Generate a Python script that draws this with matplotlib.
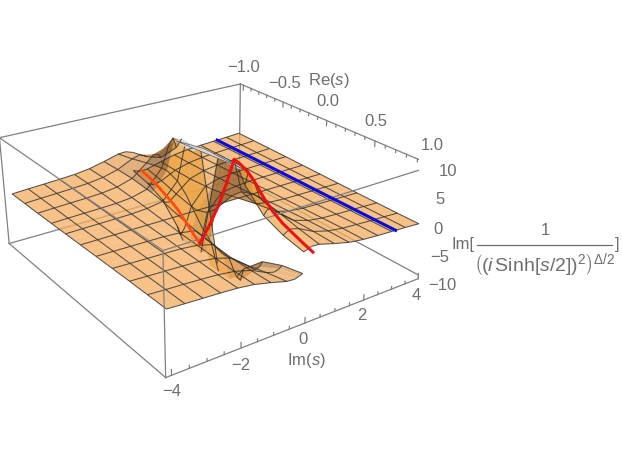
import numpy as np
import matplotlib
matplotlib.use('Agg')
import matplotlib.pyplot as plt
from mpl_toolkits.mplot3d.art3d import Poly3DCollection, Line3DCollection

plt.rcParams['font.family'] = ['Liberation Sans', 'DejaVu Sans']
plt.rcParams['mathtext.fontset'] = 'custom'
plt.rcParams['mathtext.rm'] = 'Liberation Sans'
plt.rcParams['mathtext.it'] = 'Liberation Sans:italic'

W, H = 622, 463
GRAY = '#6e6e6e'

# surface values for Re > 0, Im > 0; the other three quadrants are its mirror images
re_pos = [0.1, 0.2, 0.33, 0.4, 0.6, 0.8, 1.0]
im_pos = [0.0, 0.1, 0.25, 0.5, 1.0, 1.5, 2.0, 2.5, 3.0, 3.5, 4.0]
z_quad = [
    [10.0, 10.0, 10.0, 7.8, 4.2, 2.7, 1.9],
    [10.0, 10.0, 10.0, 9.8, 5.0, 3.1, 2.1],
    [10.0, 10.0, 10.0, 8.6, 5.2, 3.4, 2.4],
    [2.3, 3.9, 4.7, 4.6, 3.9, 3.0, 2.3],
    [0.4, 0.8, 1.2, 1.3, 1.6, 1.6, 1.5],
    [0.14, 0.3, 0.44, 0.5, 0.7, 0.8, 0.8],
    [0.06, 0.1, 0.19, 0.2, 0.3, 0.4, 0.4],
    [0.03, 0.05, 0.09, 0.1, 0.15, 0.2, 0.2],
    [0.005, 0.01, 0.015, 0.02, 0.03, 0.03, 0.04],
    [-0.015, -0.03, -0.05, -0.06, -0.08, -0.1, -0.11],
    [-0.04, -0.08, -0.13, -0.16, -0.22, -0.27, -0.3],
]
# mesh lines of the surface
re_mesh = [-1.0, -0.8, -0.6, -0.4, -0.2, 0.0, 0.2, 0.4, 0.6, 0.8, 1.0]
im_mesh = [0.0, 0.5, 1.0, 1.5, 2.0, 2.5, 3.0, 3.5, 4.0]

# red curve slightly above Im = 0, blue one at Im = pi
red_im = 0.3
red_left_re = [-1.0, -0.9, -0.8, -0.7, -0.6, -0.5, -0.4, -0.3, -0.22]
red_left_z = [-2.4, -2.8, -3.4, -4.2, -5.0, -6.0, -7.5, -9.0, -10.0]
red_right_re = [-0.22, -0.1, 0.0, 0.1, 0.18, 0.25, 0.33, 0.4, 0.5, 0.6, 0.7, 0.8, 0.9, 1.0]
red_right_z = [-10.0, -5.0, -0.5, 5.0, 10.0, 9.7, 9.0, 8.0, 6.0, 4.4, 3.3, 2.6, 1.9, 1.3]
blue_re = [-1.0, 1.0]
blue_im = [3.14, 3.14]
blue_z = [0.0, 0.0]

re_ticks = [-1.0, -0.5, 0.0, 0.5, 1.0]
im_ticks = [-4, -2, 0, 2, 4]
z_ticks = [-10, -5, 0, 5, 10]

# the box is 2% larger than the plotted range
RX, RY, RZ = 1.04, 4.16, 10.4
A_BOX, B_BOX = 2.5425, 2.5370

fig = plt.figure(figsize=(W / 100, H / 100), dpi=100)
ax = fig.add_axes([0, 0, 1, 1], projection='3d', computed_zorder=False)
ax.set_xlim(-RX, RX)
ax.set_ylim(-RY, RY)
ax.set_zlim(-RZ, RZ)
side, cx, cy = 432.4394, 0.3268, 0.5407
ax.set_position([cx - side / (2 * W), cy - side / (2 * H), side / W, side / H])
ax.set_proj_type('persp', focal_length=0.4373)
ax.view_init(24.7854, -35.1833)
ax.set_box_aspect((A_BOX, B_BOX, 1), zoom=1)
ax.set_axis_off()
ax.patch.set_alpha(0)


def box_line(a, b, z=1):
    ax.plot([a[0], b[0]], [a[1], b[1]], [a[2], b[2]], color='#808080', lw=0.9, zorder=z)


box_line((-RX, RY, -RZ), (RX, RY, -RZ), 1)
box_line((-RX, RY, -RZ), (-RX, -RY, -RZ), 1)
box_line((-RX, RY, -RZ), (-RX, RY, RZ), 1)
box_line((-RX, RY, RZ), (RX, RY, RZ), 1)
box_line((-RX, RY, RZ), (-RX, -RY, RZ), 1)
box_line((-RX, -RY, RZ), (-RX, -RY, -RZ), 1)
box_line((RX, RY, RZ), (RX, RY, -RZ), 1)
box_line((RX, -RY, -RZ), (-RX, -RY, -RZ), 1)
box_line((RX, -RY, -RZ), (RX, RY, -RZ), 1)
box_line((RX, -RY, -RZ), (RX, -RY, RZ), 3)
box_line((RX, -RY, RZ), (RX, RY, RZ), 3)
box_line((RX, -RY, RZ), (-RX, -RY, RZ), 3)

# tick marks
for v in np.arange(-1, 1.01, 0.1):
    ln = 1.0 if round(v * 10) % 5 == 0 else 0.5
    box_line((v, RY, RZ), (v, RY, RZ - ln), 1)
for v in np.arange(-4, 4.01, 0.5):
    ln = 1.0 if round(v * 2) % 4 == 0 else 0.5
    box_line((RX, v, -RZ), (RX, v, -RZ + ln), 1)
for v in np.arange(-10, 10.01, 1):
    ln = 0.16 if round(v) % 5 == 0 else 0.08
    box_line((RX, RY, v), (RX, RY - ln, v), 1)

# mirror the quadrant into the upper and lower pieces
q = np.array(z_quad)
re_all = np.concatenate([-np.array(re_pos)[::-1], [0.0], re_pos])
z_up = np.hstack([-q[:, ::-1], np.zeros((len(im_pos), 1)), q])
im_up = np.array(im_pos)
z_low = -z_up[::-1]
im_low = -im_up[::-1]

verts = []
faces = []
base = np.array([0.96, 0.68, 0.373])
lit = np.array([0.92, 0.64, 0.26])
dark = np.array([0.58, 0.38, 0.18])
for im, zz in ((im_low, z_low), (im_up, z_up)):
    for i in range(len(im) - 1):
        for j in range(len(re_all) - 1):
            c = [(re_all[j], im[i], zz[i, j]),
                 (re_all[j + 1], im[i], zz[i, j + 1]),
                 (re_all[j + 1], im[i + 1], zz[i + 1, j + 1]),
                 (re_all[j], im[i + 1], zz[i + 1, j])]
            verts.append(c)
            p = np.array(c) * np.array([A_BOX / 2, B_BOX / 8, 1 / 20])
            n = np.cross(p[2] - p[0], p[3] - p[1])
            n = n / np.linalg.norm(n)
            t = min(1.0, (1 - abs(n[2])) * 2.2)
            if min(v[2] for v in c) >= 10:
                faces.append((0.85, 0.85, 0.85, 0.95))
            else:
                mix = lit if n[0] > 0 else dark
                faces.append(tuple(base * (1 - t) + mix * t) + (0.75,))
surf = Poly3DCollection(verts, facecolors=faces, edgecolors='none', zorder=2)
ax.add_collection3d(surf, autolim=False)

# mesh lines on both pieces, none on the clipped top and bottom
segs = []
for im, zz in ((im_low, z_low), (im_up, z_up)):
    for m in im_mesh:
        for i in np.where(np.isclose(np.abs(im), m))[0]:
            for j in range(len(re_all) - 1):
                if abs(zz[i, j]) < 10 or abs(zz[i, j + 1]) < 10:
                    segs.append([(re_all[j], im[i], zz[i, j]), (re_all[j + 1], im[i], zz[i, j + 1])])
    for m in re_mesh:
        for j in np.where(np.isclose(re_all, m))[0]:
            for i in range(len(im) - 1):
                if abs(zz[i, j]) < 10 or abs(zz[i + 1, j]) < 10:
                    segs.append([(re_all[j], im[i], zz[i, j]), (re_all[j], im[i + 1], zz[i + 1, j])])
mesh = Line3DCollection(segs, colors=[(0.17, 0.17, 0.17, 0.8)], linewidths=0.75, zorder=2.5)
ax.add_collection3d(mesh, autolim=False)

cap = Poly3DCollection([[(-0.33, -0.2, 10), (-0.1, 0.1, 10), (0.33, 0.1, 10), (0.1, 0.0, 10), (-0.1, -0.1, 10)]],
                       facecolors='#d8d8d8', edgecolors='#555555', linewidths=0.5, zorder=3)
ax.add_collection3d(cap, autolim=False)

ax.plot(red_left_re, [red_im] * len(red_left_re), red_left_z, color='#ff4a10', lw=2.0, zorder=4)
ax.plot(red_right_re, [red_im] * len(red_right_re), red_right_z, color='#f01010', lw=2.2, zorder=4)
ax.plot(blue_re, blue_im, blue_z, color='#0808e0', lw=2.2, zorder=4)


def label(px, py, s, size=12, **kw):
    fig.text(px / W, 1 - py / H, s, color=GRAY, fontsize=size, ha='center', va='center', **kw)


for v, p in zip(re_ticks, [(244, 67), (285, 83), (328, 102), (376, 122), (432, 145)]):
    label(p[0], p[1], ('%.1f' % v).replace('-', '\u2212'))
for v, p in zip(im_ticks, [(172, 392), (241, 365), (303, 339), (362, 316), (416, 295)]):
    label(p[0], p[1], str(v).replace('-', '\u2212'))
for v, p in zip(z_ticks, [(442, 285), (440, 257), (438, 229), (440, 200), (448, 171)]):
    label(p[0], p[1], str(v).replace('-', '\u2212'))
label(329, 81, r'Re($\mathit{s}$)')
label(306, 361, r'Im($\mathit{s}$)')

label(463, 244, 'Im[')
label(545, 230, '1')
fig.add_artist(plt.Line2D([477 / W, 612 / W], [1 - 245 / H, 1 - 245 / H], color=GRAY, lw=0.9))
label(545, 265, r'$\left(\left(\mathit{i}\,\mathrm{Sinh}[\mathit{s}/2]\right)^{2}\right)^{\Delta/2}$', size=14)
label(617, 245, ']')

fig.savefig('out.png', dpi=100)
